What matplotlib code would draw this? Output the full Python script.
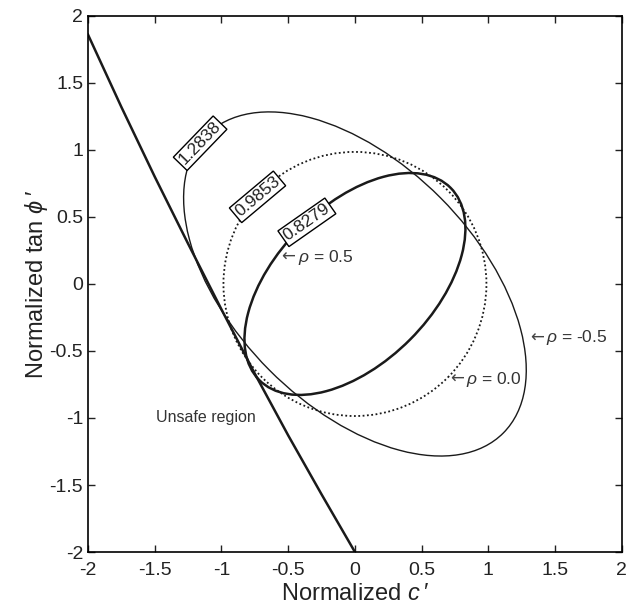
import numpy as np
import matplotlib
matplotlib.use("Agg")
import matplotlib.pyplot as plt
from matplotlib.patches import Ellipse
from matplotlib.transforms import offset_copy

plt.rcParams['font.family'] = ['Liberation Sans', 'DejaVu Sans']
plt.rcParams['mathtext.fontset'] = 'custom'
plt.rcParams['mathtext.it'] = 'Liberation Sans:italic'
plt.rcParams['mathtext.rm'] = 'Liberation Sans'

# correlation coefficients and reliability index (ellipse size) of each case
rho = [0.5, 0.0, -0.5]
beta = [0.8279, 0.9853, 1.2838]
beta_labels = ["0.8279", "0.9853", "1.2838"]
label_xy = [(-0.36, 0.46), (-0.73, 0.65), (-1.16, 1.05)]
label_rot = [35, 40, 46]
rho_text_xy = [(-0.55, 0.20), (0.71, -0.71), (1.31, -0.40)]

# limit state curve
curve_x = [-2.0, -1.75, -1.5, -1.25, -1.0, -0.75, -0.5, -0.25, 0.0]
curve_y = [1.86, 1.32, 0.80, 0.30, -0.19, -0.67, -1.13, -1.57, -2.0]

styles = [dict(lw=1.8, ls='-'), dict(lw=1.3, ls=(0, (1, 1.4))), dict(lw=1.0, ls='-')]

fig = plt.figure(figsize=(6.31, 6.12), dpi=100)
ax = fig.add_axes([0.1395, 0.098, 0.846, 0.876])

ax.plot(curve_x, curve_y, color='#1a1a1a', lw=1.8)

for r, b, st in zip(rho, beta, styles):
    # semi axes along (1,1) and (1,-1)
    w = 2 * b * np.sqrt(1 + r)
    h = 2 * b * np.sqrt(1 - r)
    ax.add_patch(Ellipse((0, 0), w, h, angle=45, fill=False,
                         edgecolor='#1a1a1a', **st))

for txt, (x, y), rot in zip(beta_labels, label_xy, label_rot):
    ax.text(x, y, txt, rotation=rot, ha='center', va='center', fontsize=12.5,
            color='#222222', rotation_mode='anchor',
            bbox=dict(boxstyle='square,pad=0.12', fc='white', ec='black', lw=1.0))

shifted = offset_copy(ax.transData, fig=fig, x=12, y=0, units='points')
for r, (x, y) in zip(rho, rho_text_xy):
    ax.text(x, y, "\u2190", ha='left', va='center', fontsize=12,
            family=['DejaVu Sans'], color='#444444')
    ax.text(x, y, "$\\rho$ = %.1f" % r, ha='left', va='center',
            fontsize=12.5, color='#333333', transform=shifted)

ax.text(-1.12, -1.0, "Unsafe region", ha='center', va='center',
        fontsize=11.5, color='#333333')

ax.set_xlim(-2, 2)
ax.set_ylim(-2, 2)
ticks = [-2, -1.5, -1, -0.5, 0, 0.5, 1, 1.5, 2]
tick_labels = ['-2', '-1.5', '-1', '-0.5', '0', '0.5', '1', '1.5', '2']
ax.set_xticks(ticks)
ax.set_yticks(ticks)
ax.set_xticklabels(tick_labels)
ax.set_yticklabels(tick_labels)
ax.tick_params(direction='in', top=True, right=True, labelsize=14,
               length=5, width=1, colors='#222222')
ax.tick_params(axis='x', pad=7)
for s in ax.spines.values():
    s.set_linewidth(1.2)
ax.set_xlabel("Normalized $c$\u2009\u2032", fontsize=17, color='#222222', labelpad=3)
ax.set_ylabel("Normalized tan $\\phi$\u2009\u2032", fontsize=17, color='#222222', labelpad=0)

fig.savefig("out.png", dpi=100)
